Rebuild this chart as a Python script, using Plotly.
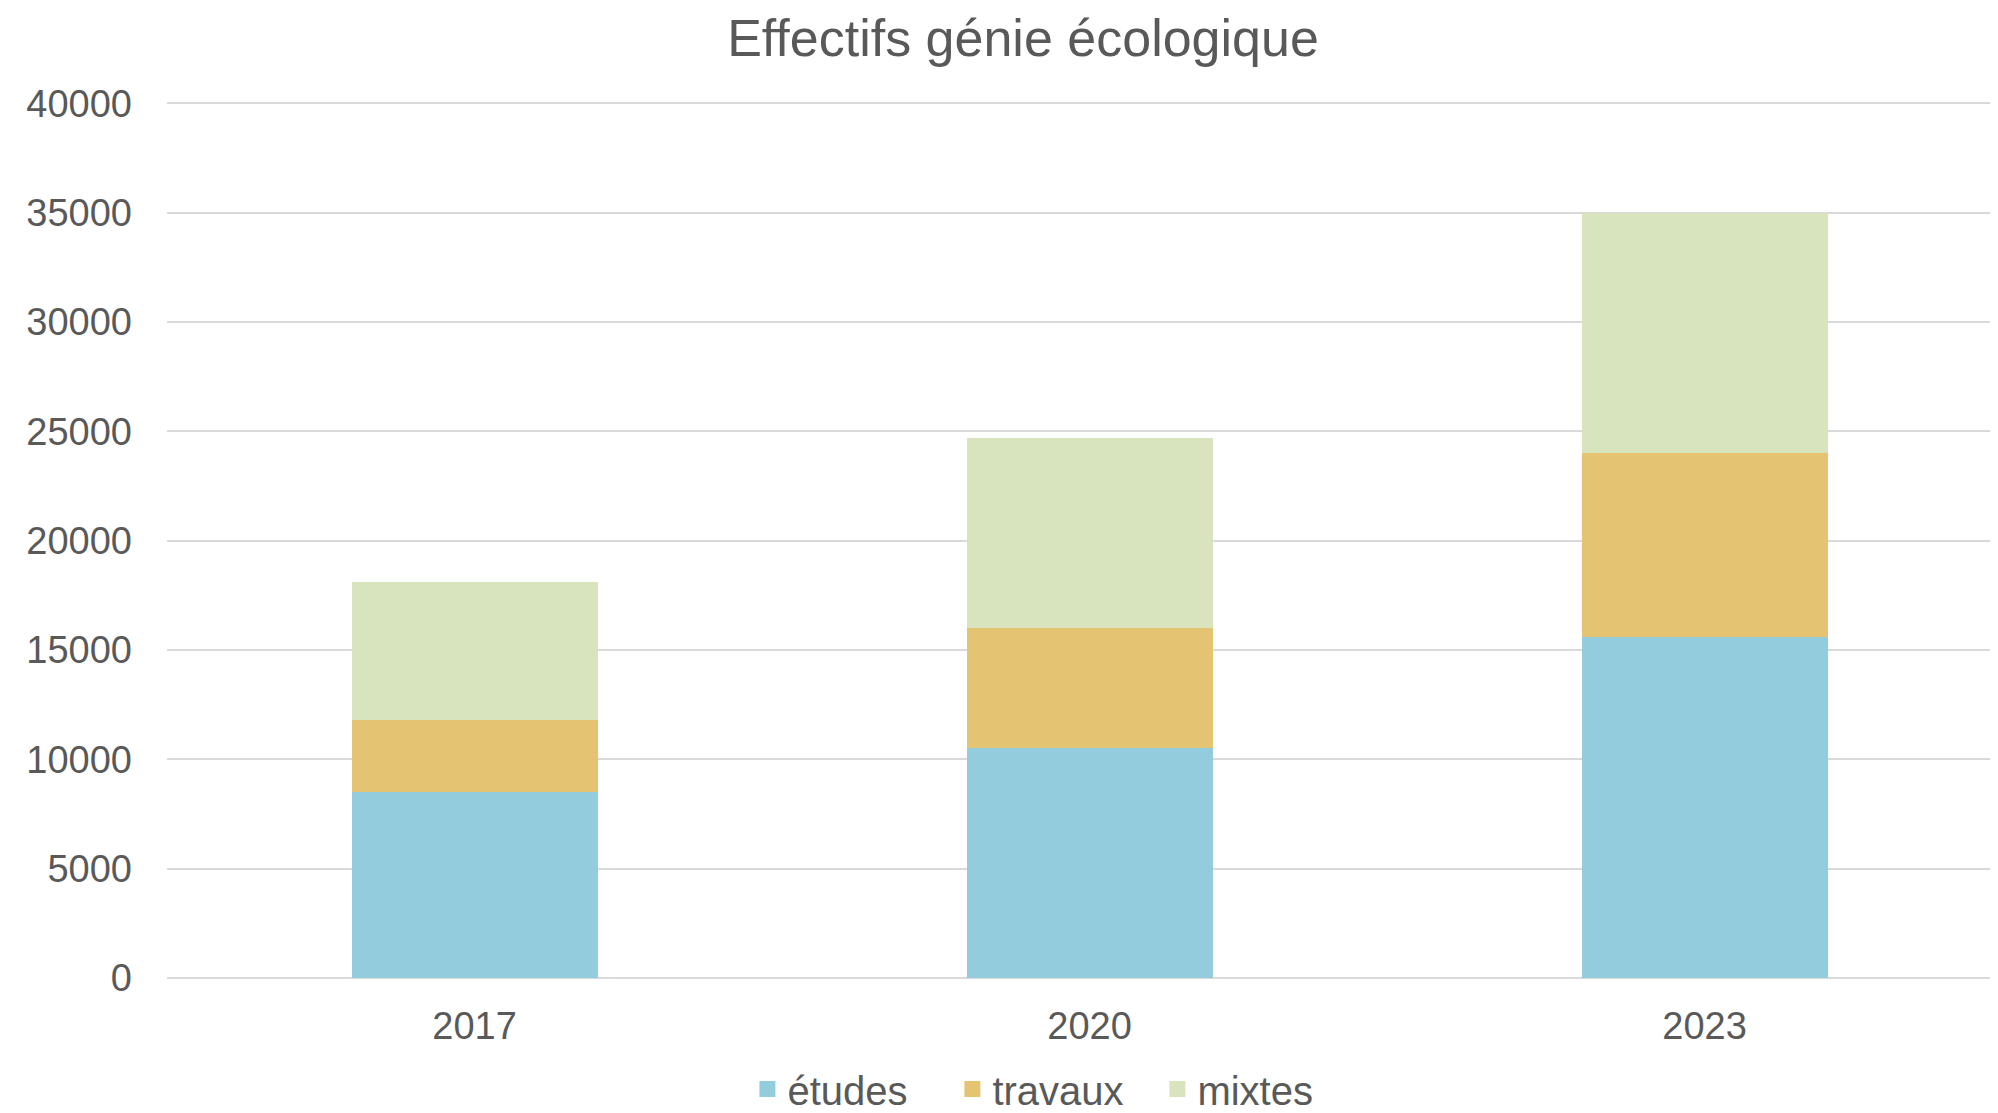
import plotly.graph_objects as go

years = ["2017", "2020", "2023"]
etudes = [8500, 10500, 15600]
travaux = [3300, 5500, 8400]
mixtes = [6300, 8700, 11000]
series_names = ["études", "travaux", "mixtes"]
colors = ["#93CDDD", "#E4C472", "#D8E4BD"]
y_ticks = [0, 5000, 10000, 15000, 20000, 25000, 30000, 35000, 40000]

# page body has an 8px margin, so the figure is sized to fit the window
W, H = 1990, 1105
ml, mr, mt, mb = 159, 0, 93, 135

fig = go.Figure()
for name, vals, col in zip(series_names, [etudes, travaux, mixtes], colors):
    fig.add_trace(go.Bar(x=years, y=vals, name=name, showlegend=False,
                         marker=dict(color=col, line=dict(width=0))))
# legend entries with larger square swatches
for name, col in zip(series_names, colors):
    fig.add_trace(go.Scatter(x=[None], y=[None], mode="markers", name=name,
                             marker=dict(symbol="square", size=16, color=col)))

fig.update_layout(
    width=W, height=H,
    barmode="stack", bargap=0.6,
    paper_bgcolor="white", plot_bgcolor="white",
    margin=dict(l=ml, r=mr, t=mt, b=mb, autoexpand=False),
    font=dict(family="Liberation Sans, Arial, sans-serif", color="#595959"),
    title=dict(text="Effectifs génie écologique", x=1015 / W, xanchor="center",
               y=1 - 30 / H, yanchor="middle", yref="container",
               font=dict(size=52, color="#595959")),
    xaxis=dict(type="category", range=[-0.5, 2.477], showgrid=False, zeroline=False,
               showline=False, ticks="", tickfont=dict(size=38, color="#595959"),
               ticklabelstandoff=22),
    yaxis=dict(range=[0, 40100], tickvals=y_ticks, ticktext=[str(v) for v in y_ticks],
               showgrid=True, gridcolor="#D9D9D9", gridwidth=2,
               zeroline=True, zerolinecolor="#D9D9D9", zerolinewidth=2,
               showline=False, ticks="", tickfont=dict(size=38, color="#595959"),
               ticklabelstandoff=34),
    legend=dict(orientation="h", x=965 / W, xanchor="center",
                y=(970 - 1081) / 877, yanchor="middle",
                font=dict(size=40, color="#595959"), traceorder="normal",
                itemwidth=30, entrywidth=160, bgcolor="rgba(0,0,0,0)"),
)

fig.write_html("out.html")
